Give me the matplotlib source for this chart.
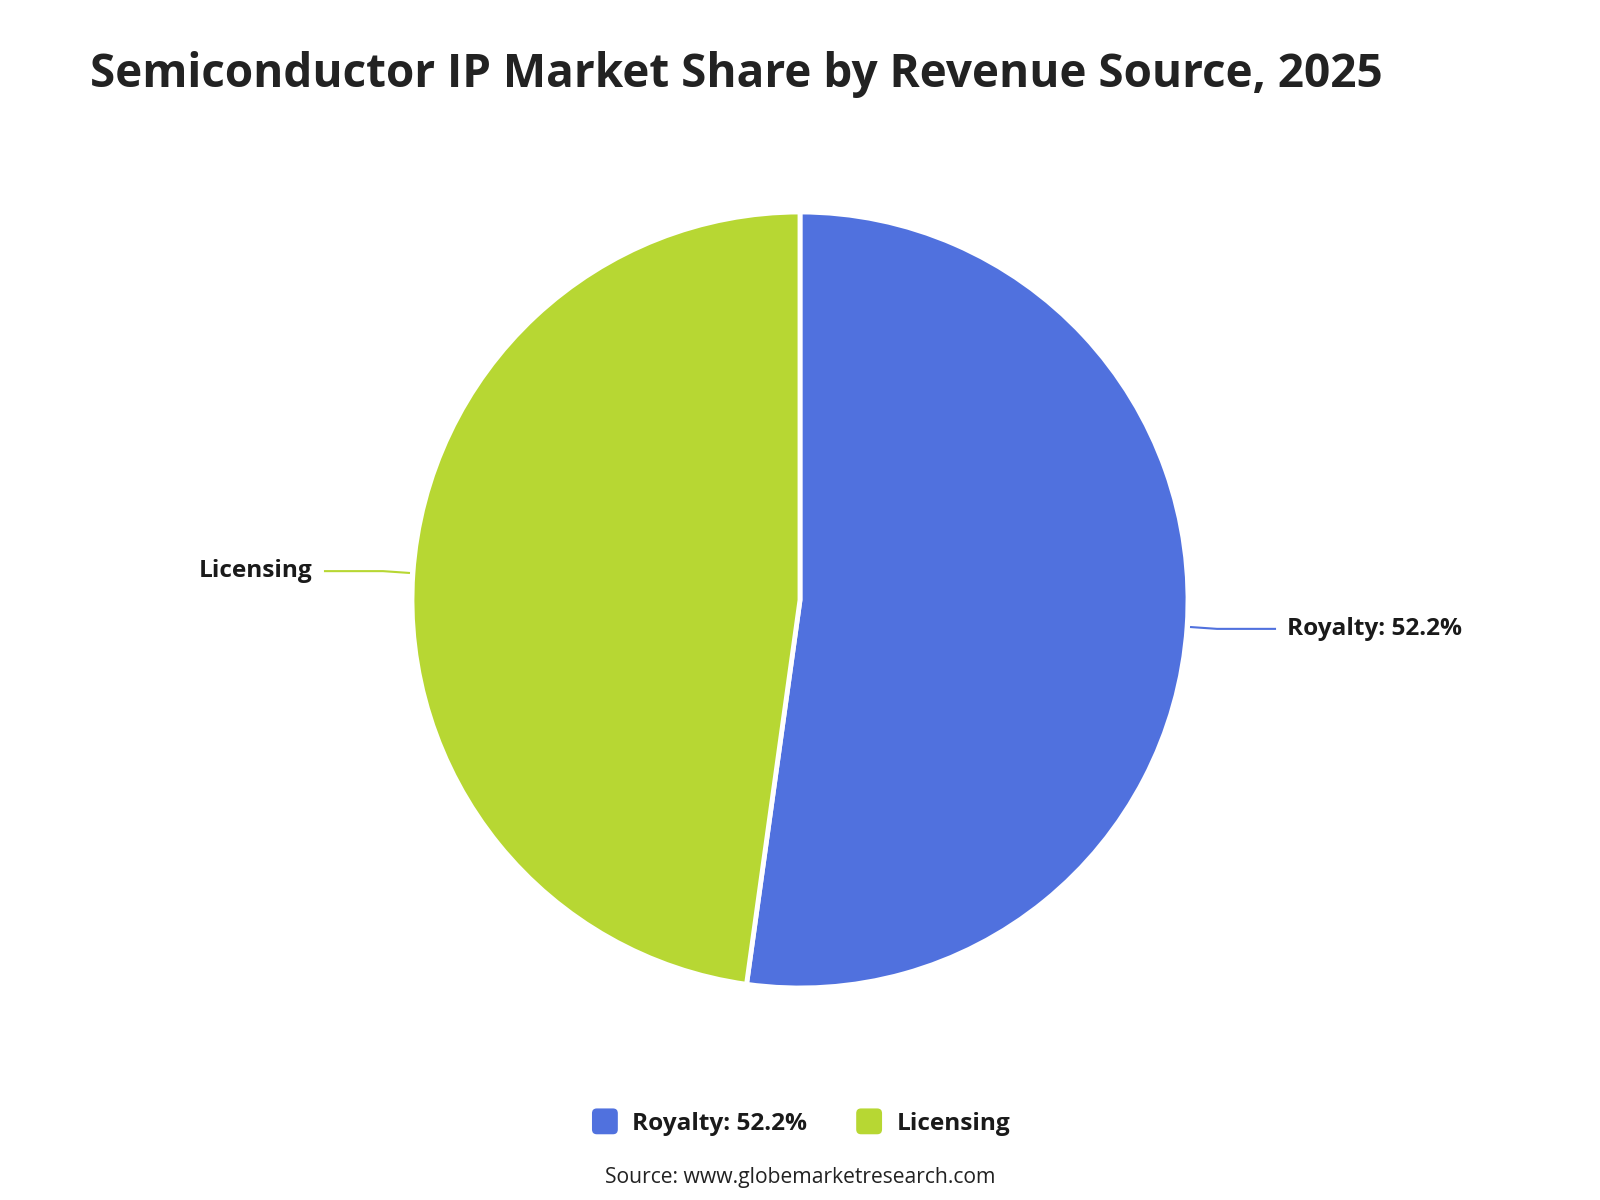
import numpy as np
import matplotlib
matplotlib.use("Agg")
import matplotlib.pyplot as plt
from matplotlib.patches import FancyBboxPatch
from matplotlib.legend_handler import HandlerPatch

plt.rcParams['font.family'] = ['Open Sans', 'DejaVu Sans']

#%%
# data
categories = ["Royalty", "Licensing"]
shares = [52.2, 47.8]
slice_labels = ["Royalty: 52.2%", "Licensing"]
colors = ["#5071DE", "#B7D733"]
title = "Semiconductor IP Market Share by Revenue Source, 2025"
source = "Source: www.globemarketresearch.com"

#%%
fig = plt.figure(figsize=(16, 12), dpi=100)
ax = fig.add_axes([0, 0, 1, 1])

cx, cy, R = 800, 600, 388
wedges, _ = ax.pie(shares, colors=colors, startangle=90, counterclock=False,
                   radius=R, center=(cx, cy), frame=True,
                   wedgeprops=dict(edgecolor="white", linewidth=3.5, joinstyle="round"))
ax.set_xlim(0, 1600)
ax.set_ylim(0, 1200)
ax.set_aspect("equal")
ax.axis("off")

# leader lines + labels
for w, lab, col in zip(wedges, slice_labels, colors):
    mid = np.deg2rad((w.theta1 + w.theta2) / 2)
    c, s = np.cos(mid), np.sin(mid)
    x0, y0 = cx + (R + 4) * c, cy + (R + 4) * s
    x1, y1 = cx + (R + 30) * c, cy + (R + 30) * s
    side = 1 if c > 0 else -1
    x2 = x1 + side * 58
    ax.plot([x0, x1, x2], [y0, y1, y1], color=col, lw=1.5, solid_joinstyle="round")
    ax.text(x2 + side * 12, y1, lab, ha="left" if side > 0 else "right", va="center",
            fontsize=17.6, fontweight="bold", color="#1a1a1a")

# title
fig.text(90 / 1600, 1 - 74 / 1200, title, fontsize=33, fontweight="bold",
         color="#222222", ha="left", va="center")

# legend with rounded squares
def rounded_square(legend, orig_handle, xdescent, ydescent, width, height, fontsize):
    side = min(width, height)
    return FancyBboxPatch((-xdescent + (width - side) / 2, -ydescent + (height - side) / 2),
                          side, side, boxstyle="round,pad=0,rounding_size=3.5")

handles = [plt.Rectangle((0, 0), 1, 1, facecolor=c, edgecolor="none") for c in colors]
leg = fig.legend(handles, slice_labels, loc="center", bbox_to_anchor=(0.5, 1 - 1122 / 1200),
                 ncol=2, frameon=False, handlelength=1.25, handleheight=1.25,
                 handletextpad=0.5, columnspacing=1.9,
                 handler_map={plt.Rectangle: HandlerPatch(patch_func=rounded_square)},
                 prop=dict(size=17.6, weight="bold"))
for t in leg.get_texts():
    t.set_color("#1a1a1a")

fig.text(0.5, 1 - 1177 / 1200, source, fontsize=15.2, fontweight="medium",
         color="#222222", ha="center", va="center")

fig.savefig("out.png", dpi=100, facecolor="white")
